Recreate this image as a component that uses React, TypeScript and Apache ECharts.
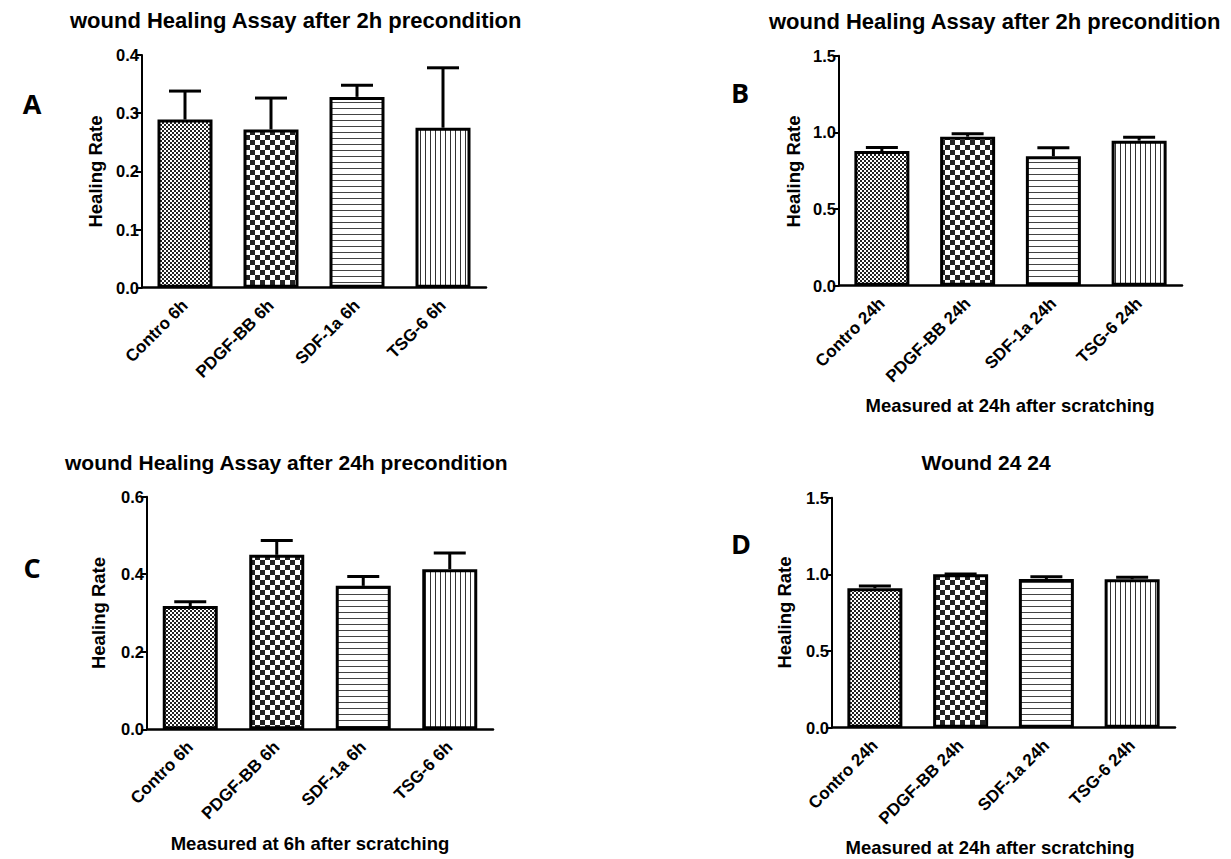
import React, { useEffect, useRef } from "react";
import * as echarts from "echarts";

const categories6 = ["Contro 6h", "PDGF-BB 6h", "SDF-1a 6h", "TSG-6 6h"];
const categories24 = ["Contro 24h", "PDGF-BB 24h", "SDF-1a 24h", "TSG-6 24h"];

const meanA = [0.289, 0.272, 0.328, 0.275];
const errA = [0.049, 0.054, 0.02, 0.103];
const meanB = [0.878, 0.972, 0.844, 0.946];
const errB = [0.024, 0.019, 0.056, 0.022];
const meanC = [0.318, 0.45, 0.37, 0.413];
const errC = [0.011, 0.037, 0.024, 0.042];
const meanD = [0.909, 1.0, 0.97, 0.968];
const errD = [0.015, 0.003, 0.015, 0.013];

const titles = [
  "wound Healing Assay after 2h precondition",
  "wound Healing Assay after 2h precondition",
  "wound Healing Assay after 24h precondition",
  "Wound 24 24",
];
const panelLetters = ["A", "B", "C", "D"];
const yName = "Healing Rate";
const xNames = ["", "Measured at 24h after scratching", "Measured at 6h after scratching", "Measured at 24h after scratching"];

const FONT = '"Liberation Sans", Arial, sans-serif';

function makePattern(kind: string) {
  const c = document.createElement("canvas");
  let w = 4, h = 4;
  if (kind === "coarse") { w = 10; h = 10; }
  if (kind === "hlines") { w = 4; h = 6; }
  if (kind === "vlines") { w = 5; h = 4; }
  c.width = w; c.height = h;
  const ctx = c.getContext("2d")!;
  ctx.fillStyle = "#fff";
  ctx.fillRect(0, 0, w, h);
  ctx.fillStyle = "#222";
  if (kind === "fine") {
    ctx.fillRect(0, 0, 2, 2);
    ctx.fillRect(2, 2, 2, 2);
  } else if (kind === "coarse") {
    ctx.fillRect(0, 0, 5, 5);
    ctx.fillRect(5, 5, 5, 5);
  } else if (kind === "hlines") {
    ctx.fillStyle = "#444";
    ctx.fillRect(0, 0, w, 1);
  } else if (kind === "vlines") {
    ctx.fillStyle = "#333";
    ctx.fillRect(0, 0, 1, h);
  }
  return { image: c, repeat: "repeat", imageWidth: w, imageHeight: h } as any;
}

export default function App() {
  const ref = useRef<HTMLDivElement>(null);
  useEffect(() => {
    if (!ref.current) return;
    const chart = echarts.init(ref.current, null, { renderer: "svg" });
    const patterns = ["fine", "coarse", "hlines", "vlines"].map(makePattern);

    const grids = [
      { left: 142, top: 55, width: 344, height: 232.7 },
      { left: 839, top: 55.7, width: 343, height: 230 },
      { left: 147, top: 496.7, width: 346, height: 232.6 },
      { left: 832, top: 497.7, width: 343, height: 230 },
    ];
    const yMax = [0.4, 1.5, 0.6, 1.5];
    const yInt = [0.1, 0.5, 0.2, 0.5];
    const cats = [categories6, categories24, categories6, categories24];
    const means = [meanA, meanB, meanC, meanD];
    const errs = [errA, errB, errC, errD];

    const xAxis = grids.map((_, i) => ({
      type: "category",
      gridIndex: i,
      data: cats[i],
      axisLine: { lineStyle: { color: "#000", width: 2.5 } },
      axisTick: { alignWithLabel: true, length: 7, lineStyle: { color: "#000", width: 2 } },
      axisLabel: {
        interval: 0,
        rotate: 45,
        margin: 15,
        color: "#000",
        fontSize: 17,
        fontWeight: "bold",
        fontFamily: FONT,
      },
    }));
    const yAxis = grids.map((_, i) => ({
      type: "value",
      gridIndex: i,
      min: 0,
      max: yMax[i],
      interval: yInt[i],
      axisLine: { show: true, lineStyle: { color: "#000", width: 2 } },
      axisTick: { show: true, length: 6, lineStyle: { color: "#000", width: 2 } },
      splitLine: { show: false },
      axisLabel: {
        margin: 3,
        color: "#000",
        fontSize: 16.5,
        fontWeight: "bold",
        fontFamily: FONT,
        formatter: (v: number) => v.toFixed(1),
      },
    }));

    const series: any[] = [];
    grids.forEach((_, i) => {
      series.push({
        type: "bar",
        xAxisIndex: i,
        yAxisIndex: i,
        barWidth: 55,
        data: means[i].map((v, j) => ({
          value: v,
          itemStyle: { color: patterns[j], borderColor: "#000", borderWidth: 3 },
        })),
      });
      series.push({
        type: "custom",
        xAxisIndex: i,
        yAxisIndex: i,
        z: 3,
        data: means[i].map((v, j) => [j, v, errs[i][j]]),
        encode: { x: 0, y: 1 },
        renderItem: (params: any, api: any) => {
          const x = api.value(0);
          const m = api.value(1);
          const e = api.value(2);
          const p0 = api.coord([x, m]);
          const p1 = api.coord([x, m + e]);
          const half = 16;
          return {
            type: "group",
            children: [
              { type: "line", shape: { x1: p0[0], y1: p0[1], x2: p1[0], y2: p1[1] }, style: { stroke: "#000", lineWidth: 3 } },
              { type: "line", shape: { x1: p1[0] - half, y1: p1[1], x2: p1[0] + half, y2: p1[1] }, style: { stroke: "#000", lineWidth: 3 } },
            ],
          };
        },
      });
    });

    const txt = (text: string, x: number, y: number, size: number, align: string, rot = 0, family = FONT) => ({
      type: "text",
      x,
      y,
      rotation: rot,
      style: {
        text,
        fill: "#000",
        fontSize: size,
        fontWeight: "bold",
        fontFamily: family,
        align,
        verticalAlign: "middle",
      },
    });

    const graphic: any[] = [
      txt(titles[0], 70, 20.5, 22, "left"),
      txt(titles[1], 769, 21.5, 22, "left"),
      txt(titles[2], 65, 462, 21, "left"),
      txt(titles[3], 986, 462, 21, "center"),
      txt(panelLetters[0], 32, 103, 27, "center", 0, '"Open Sans", sans-serif'),
      txt(panelLetters[1], 740, 92, 27, "center", 0, '"Open Sans", sans-serif'),
      txt(panelLetters[2], 32, 567, 27, "center", 0, '"Open Sans", sans-serif'),
      txt(panelLetters[3], 741, 543, 27, "center", 0, '"Open Sans", sans-serif'),
      txt(yName, 95, 171.5, 18.5, "center", Math.PI / 2),
      txt(yName, 793, 171.5, 18.5, "center", Math.PI / 2),
      txt(yName, 98, 613, 18.5, "center", Math.PI / 2),
      txt(yName, 784, 612.5, 18.5, "center", Math.PI / 2),
      txt(xNames[1], 1010, 405, 18.5, "center"),
      txt(xNames[2], 310, 843, 18.5, "center"),
      txt(xNames[3], 990, 847, 18.5, "center"),
    ];

    chart.setOption({
      animation: false,
      backgroundColor: "#fff",
      grid: grids.map((g) => ({ ...g, containLabel: false })),
      xAxis,
      yAxis,
      series,
      graphic,
    } as any);
    return () => chart.dispose();
  }, []);
  return (
    <div
      ref={ref}
      style={{ position: "absolute", left: 0, top: 0, width: 1231, height: 859, background: "#fff" }}
    />
  );
}
